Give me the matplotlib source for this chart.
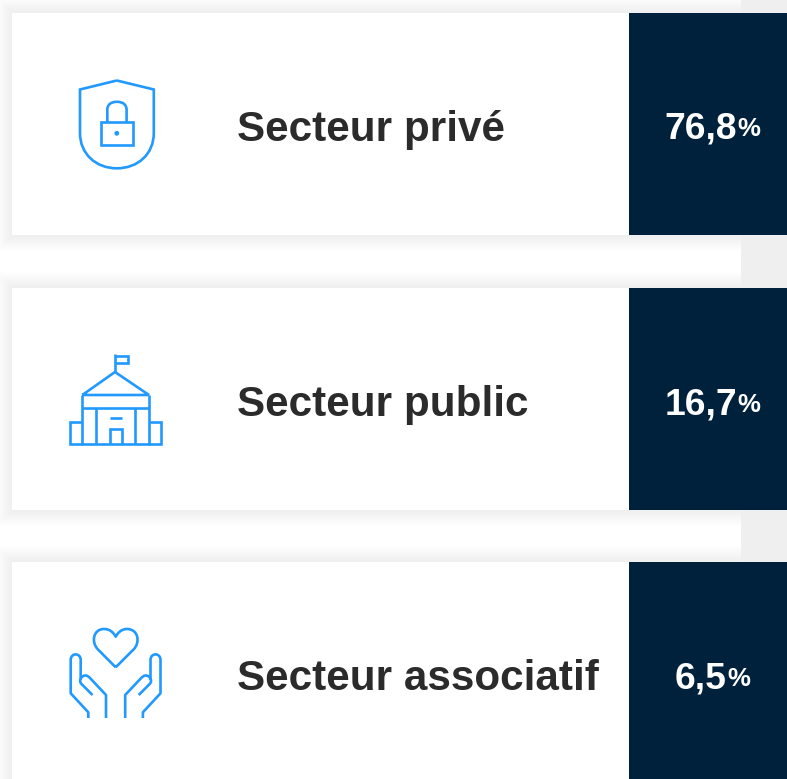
import matplotlib
matplotlib.use("Agg")
import matplotlib.pyplot as plt
from matplotlib.patches import Rectangle, PathPatch, Circle
from matplotlib.path import Path

categories = ["Secteur privé", "Secteur public", "Secteur associatif"]
values = ["76,8", "16,7", "6,5"]
unit = "%"

W, H = 787, 779
NAVY = "#00213B"
BLUE = "#2299FF"
INK = "#2B2B2B"
STRIP = "#EFEFEF"
card_tops = [13, 288, 562]
card_bottoms = [235, 510, 790]
LEFT, SPLIT = 12, 629
text_y = [125, 400, 674]
value_y = [125, 401, 675]

fig = plt.figure(figsize=(W / 100, H / 100), dpi=100, facecolor="white")
ax = fig.add_axes([0, 0, 1, 1])
ax.set_xlim(0, W)
ax.set_ylim(H, 0)
ax.axis("off")

for top, bot in zip(card_tops, card_bottoms):
    for grow in range(16, 0, -1):
        ax.add_patch(Rectangle((LEFT - grow, top - grow), 741 - LEFT + grow,
                               bot - top + 2 * grow, fc="black", ec="none",
                               alpha=0.0028, zorder=2))
    ax.add_patch(Rectangle((LEFT, top), SPLIT - LEFT, bot - top, fc="white", ec="none", zorder=3))

ax.add_patch(Rectangle((741, 0), W - 741, H, fc=STRIP, ec="none", zorder=2.5))
for top, bot in zip(card_tops, card_bottoms):
    ax.add_patch(Rectangle((SPLIT, top), W - SPLIT, bot - top, fc=NAVY, ec="none", zorder=3))

LW = 1.9


def line(pts, join="miter", cap="butt"):
    xs, ys = zip(*pts)
    ax.plot(xs, ys, color=BLUE, lw=LW, solid_joinstyle=join, solid_capstyle=cap, zorder=5)


def curve(verts, codes, join="round"):
    ax.add_patch(PathPatch(Path(verts, codes), fc="none", ec=BLUE, lw=LW, joinstyle=join,
                           capstyle="butt", zorder=5))


M, L, C = Path.MOVETO, Path.LINETO, Path.CURVE4

# shield icon
curve([(116.8, 80.5), (80, 89.5), (80, 133), (80, 154), (96, 168.3), (116.8, 168.3),
       (138, 168.3), (153.8, 154), (153.8, 133), (153.8, 89.5), (116.8, 80.5)],
      [M, L, L, C, C, C, C, C, C, L, L], join="miter")
ax.add_patch(Rectangle((101, 122.3), 31.7, 22.7, fc="none", ec=BLUE, lw=LW, zorder=5))
curve([(107.3, 122), (107.3, 110), (107.3, 104.5), (111, 101.8), (116.9, 101.8),
       (122.8, 101.8), (126.6, 104.5), (126.6, 110), (126.6, 122)],
      [M, L, C, C, C, C, C, C, L])
ax.add_patch(Circle((116.8, 133.3), 2.4, fc=BLUE, ec="none", zorder=5))

# building icon
line([(115, 372), (115, 354)])
line([(115, 355.8), (128.3, 355.8), (128.3, 362.8), (115, 362.8)])
line([(82.3, 395), (115, 372), (149, 395), (82.3, 395)])
line([(82.3, 395), (82.3, 445)])
line([(149, 395), (149, 445)])
line([(82.3, 408.3), (149, 408.3)])
line([(96.2, 408.3), (96.2, 444.3)])
line([(135, 408.3), (135, 444.3)])
line([(82.3, 422.3), (69.5, 422.3), (69.5, 444.3), (161, 444.3), (161, 422.3), (149, 422.3)])
line([(109.6, 444.3), (109.6, 429.2), (121.6, 429.2), (121.6, 444.3)])
line([(109.6, 418.3), (121.6, 418.3)])

# hands icon
curve([(115.7, 667.3), (98, 649.5), (91, 642.5), (93, 629), (104, 629), (110, 629),
       (113.5, 632.5), (115.7, 636.7), (118, 632.5), (121.5, 629), (127, 629),
       (138.5, 629), (140.5, 642.5), (133.5, 649.5), (115.7, 667.3)],
      [M, L, C, C, C, C, C, C, C, C, C, C, C, C, L])
CX = 115.6


def hand(sign):
    t = lambda x: CX + sign * (x - CX)
    curve([(t(88.3), 718), (t(88.3), 712.3), (t(70.7), 693.3), (t(70.7), 660),
           (t(70.7), 652.5), (t(80.7), 652.5), (t(80.7), 660), (t(80.7), 680)],
          [M, L, L, L, C, C, C, L])
    curve([(t(92.5), 695), (t(81.5), 684), (t(78.5), 681), (t(81), 676), (t(85), 675.5),
           (t(87), 675.3), (t(88.5), 676.5), (t(90), 678), (t(106), 695), (t(106), 718)],
          [M, L, C, C, C, C, C, C, L, L])


hand(1)
hand(-1)

for name, val, ty, vy in zip(categories, values, text_y, value_y):
    ax.text(237, ty, name, family="Liberation Sans", weight="bold", fontsize=30.4,
            color=INK, ha="left", va="center_baseline", zorder=6)
    a = ax.text(0, vy, val, family="Liberation Sans", weight="bold", fontsize=26.8,
                color="white", ha="left", va="center_baseline", zorder=6)
    b = ax.text(0, vy + 1, unit, family="Liberation Sans", weight="bold", fontsize=18.5,
                color="white", ha="left", va="center_baseline", zorder=6)
    r = fig.canvas.get_renderer()
    wa = a.get_window_extent(r).width
    wb = b.get_window_extent(r).width
    x0 = 712 - (wa + wb) / 2
    a.set_x(x0)
    b.set_x(x0 + wa + 1)

fig.savefig("out.png", dpi=100, facecolor="white")
